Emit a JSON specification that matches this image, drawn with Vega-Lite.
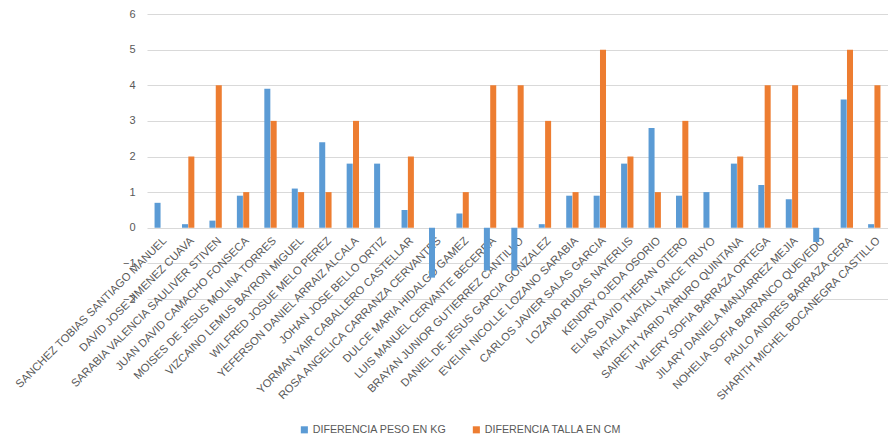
{
  "$schema": "https://vega.github.io/schema/vega-lite/v6.json",
  "width": 741,
  "height": 285,
  "autosize": {"type": "none"},
  "padding": {"left": 147, "top": 14, "right": 0, "bottom": 139},
  "background": "white",
  "config": {"view": {"stroke": null}, "font": "Liberation Sans"},
  "data": {"values": [
    {"nombre": "SANCHEZ TOBIAS SANTIAGO MANUEL", "serie": "DIFERENCIA PESO EN KG", "valor": 0.7},
    {"nombre": "SANCHEZ TOBIAS SANTIAGO MANUEL", "serie": "DIFERENCIA TALLA EN CM", "valor": 0},
    {"nombre": "DAVID JOSE JIMENEZ CUAVA", "serie": "DIFERENCIA PESO EN KG", "valor": 0.1},
    {"nombre": "DAVID JOSE JIMENEZ CUAVA", "serie": "DIFERENCIA TALLA EN CM", "valor": 2},
    {"nombre": "SARABIA VALENCIA SAULIVER STIVEN", "serie": "DIFERENCIA PESO EN KG", "valor": 0.2},
    {"nombre": "SARABIA VALENCIA SAULIVER STIVEN", "serie": "DIFERENCIA TALLA EN CM", "valor": 4},
    {"nombre": "JUAN DAVID CAMACHO FONSECA", "serie": "DIFERENCIA PESO EN KG", "valor": 0.9},
    {"nombre": "JUAN DAVID CAMACHO FONSECA", "serie": "DIFERENCIA TALLA EN CM", "valor": 1},
    {"nombre": "MOISES DE JESUS MOLINA TORRES", "serie": "DIFERENCIA PESO EN KG", "valor": 3.9},
    {"nombre": "MOISES DE JESUS MOLINA TORRES", "serie": "DIFERENCIA TALLA EN CM", "valor": 3},
    {"nombre": "VIZCAINO LEMUS BAYRON MIGUEL", "serie": "DIFERENCIA PESO EN KG", "valor": 1.1},
    {"nombre": "VIZCAINO LEMUS BAYRON MIGUEL", "serie": "DIFERENCIA TALLA EN CM", "valor": 1},
    {"nombre": "WILFRED JOSUE MELO PEREZ", "serie": "DIFERENCIA PESO EN KG", "valor": 2.4},
    {"nombre": "WILFRED JOSUE MELO PEREZ", "serie": "DIFERENCIA TALLA EN CM", "valor": 1},
    {"nombre": "YEFERSON DANIEL ARRAIZ ALCALA", "serie": "DIFERENCIA PESO EN KG", "valor": 1.8},
    {"nombre": "YEFERSON DANIEL ARRAIZ ALCALA", "serie": "DIFERENCIA TALLA EN CM", "valor": 3},
    {"nombre": "JOHAN JOSE BELLO ORTIZ", "serie": "DIFERENCIA PESO EN KG", "valor": 1.8},
    {"nombre": "JOHAN JOSE BELLO ORTIZ", "serie": "DIFERENCIA TALLA EN CM", "valor": 0},
    {"nombre": "YORMAN  YAIR CABALLERO CASTELLAR", "serie": "DIFERENCIA PESO EN KG", "valor": 0.5},
    {"nombre": "YORMAN  YAIR CABALLERO CASTELLAR", "serie": "DIFERENCIA TALLA EN CM", "valor": 2},
    {"nombre": "ROSA ANGELICA CARRANZA CERVANTES", "serie": "DIFERENCIA PESO EN KG", "valor": -1.4},
    {"nombre": "ROSA ANGELICA CARRANZA CERVANTES", "serie": "DIFERENCIA TALLA EN CM", "valor": 0},
    {"nombre": "DULCE MARIA HIDALGO GAMEZ", "serie": "DIFERENCIA PESO EN KG", "valor": 0.4},
    {"nombre": "DULCE MARIA HIDALGO GAMEZ", "serie": "DIFERENCIA TALLA EN CM", "valor": 1},
    {"nombre": "LUIS MANUEL CERVANTE BECERRA", "serie": "DIFERENCIA PESO EN KG", "valor": -1.2},
    {"nombre": "LUIS MANUEL CERVANTE BECERRA", "serie": "DIFERENCIA TALLA EN CM", "valor": 4},
    {"nombre": "BRAYAN JUNIOR GUTIERREZ CANTILLO", "serie": "DIFERENCIA PESO EN KG", "valor": -1.2},
    {"nombre": "BRAYAN JUNIOR GUTIERREZ CANTILLO", "serie": "DIFERENCIA TALLA EN CM", "valor": 4},
    {"nombre": "DANIEL DE JESUS GARCIA GONZALEZ", "serie": "DIFERENCIA PESO EN KG", "valor": 0.1},
    {"nombre": "DANIEL DE JESUS GARCIA GONZALEZ", "serie": "DIFERENCIA TALLA EN CM", "valor": 3},
    {"nombre": "EVELIN NICOLLE LOZANO SARABIA", "serie": "DIFERENCIA PESO EN KG", "valor": 0.9},
    {"nombre": "EVELIN NICOLLE LOZANO SARABIA", "serie": "DIFERENCIA TALLA EN CM", "valor": 1},
    {"nombre": "CARLOS JAVIER SALAS GARCIA", "serie": "DIFERENCIA PESO EN KG", "valor": 0.9},
    {"nombre": "CARLOS JAVIER SALAS GARCIA", "serie": "DIFERENCIA TALLA EN CM", "valor": 5},
    {"nombre": "LOZANO RUDAS NAYERLIS", "serie": "DIFERENCIA PESO EN KG", "valor": 1.8},
    {"nombre": "LOZANO RUDAS NAYERLIS", "serie": "DIFERENCIA TALLA EN CM", "valor": 2},
    {"nombre": "KENDRY OJEDA OSORIO", "serie": "DIFERENCIA PESO EN KG", "valor": 2.8},
    {"nombre": "KENDRY OJEDA OSORIO", "serie": "DIFERENCIA TALLA EN CM", "valor": 1},
    {"nombre": "ELIAS DAVID THERAN OTERO", "serie": "DIFERENCIA PESO EN KG", "valor": 0.9},
    {"nombre": "ELIAS DAVID THERAN OTERO", "serie": "DIFERENCIA TALLA EN CM", "valor": 3},
    {"nombre": "NATALIA NATALI YANCE TRUYO", "serie": "DIFERENCIA PESO EN KG", "valor": 1},
    {"nombre": "NATALIA NATALI YANCE TRUYO", "serie": "DIFERENCIA TALLA EN CM", "valor": 0},
    {"nombre": "SAIRETH YARID YARURO QUINTANA", "serie": "DIFERENCIA PESO EN KG", "valor": 1.8},
    {"nombre": "SAIRETH YARID YARURO QUINTANA", "serie": "DIFERENCIA TALLA EN CM", "valor": 2},
    {"nombre": "VALERY SOFIA BARRAZA ORTEGA", "serie": "DIFERENCIA PESO EN KG", "valor": 1.2},
    {"nombre": "VALERY SOFIA BARRAZA ORTEGA", "serie": "DIFERENCIA TALLA EN CM", "valor": 4},
    {"nombre": "JILARY DANIELA MANJARREZ MEJIA", "serie": "DIFERENCIA PESO EN KG", "valor": 0.8},
    {"nombre": "JILARY DANIELA MANJARREZ MEJIA", "serie": "DIFERENCIA TALLA EN CM", "valor": 4},
    {"nombre": "NOHELIA SOFIA BARRANCO QUEVEDO", "serie": "DIFERENCIA PESO EN KG", "valor": -0.4},
    {"nombre": "NOHELIA SOFIA BARRANCO QUEVEDO", "serie": "DIFERENCIA TALLA EN CM", "valor": 0},
    {"nombre": "PAULO ANDRES BARRAZA CERA", "serie": "DIFERENCIA PESO EN KG", "valor": 3.6},
    {"nombre": "PAULO ANDRES BARRAZA CERA", "serie": "DIFERENCIA TALLA EN CM", "valor": 5},
    {"nombre": "SHARITH MICHEL BOCANEGRA CASTILLO", "serie": "DIFERENCIA PESO EN KG", "valor": 0.1},
    {"nombre": "SHARITH MICHEL BOCANEGRA CASTILLO", "serie": "DIFERENCIA TALLA EN CM", "valor": 4}
  ]},
  "mark": {"type": "bar"},
  "encoding": {
    "x": {
      "field": "nombre", "type": "nominal", "sort": null,
      "scale": {"paddingInner": 0.55, "paddingOuter": 0.275},
      "axis": {"title": null, "labelAngle": -45, "labelAlign": "right", "labelBaseline": "top",
               "offset": -71.4, "domain": false, "ticks": false, "grid": false, "labelPadding": 7, "labelDx": 3,
               "labelFontSize": 11.2, "labelColor": "#595959", "labelOverlap": false, "labelLimit": 400}
    },
    "xOffset": {
      "field": "serie", "type": "nominal",
      "sort": ["DIFERENCIA PESO EN KG", "DIFERENCIA TALLA EN CM"],
      "scale": {"paddingInner": 0.05}
    },
    "y": {
      "field": "valor", "type": "quantitative",
      "scale": {"domain": [-2, 6], "nice": false},
      "axis": {"title": null, "values": [-2, -1, 0, 1, 2, 3, 4, 5, 6], "domain": false, "ticks": false,
               "gridColor": "#d9d9d9", "labelPadding": 12, "labelFontSize": 11, "labelColor": "#595959"}
    },
    "color": {
      "field": "serie", "type": "nominal",
      "scale": {"domain": ["DIFERENCIA PESO EN KG", "DIFERENCIA TALLA EN CM"], "range": ["#5B9BD5", "#ED7D31"]},
      "legend": {"title": null, "orient": "none", "legendX": 152, "legendY": 410, "direction": "horizontal",
                 "symbolType": "square", "symbolSize": 50, "labelFontSize": 10.7, "labelOffset": 3, "labelColor": "#595959",
                 "columnPadding": 24}
    }
  }
}
